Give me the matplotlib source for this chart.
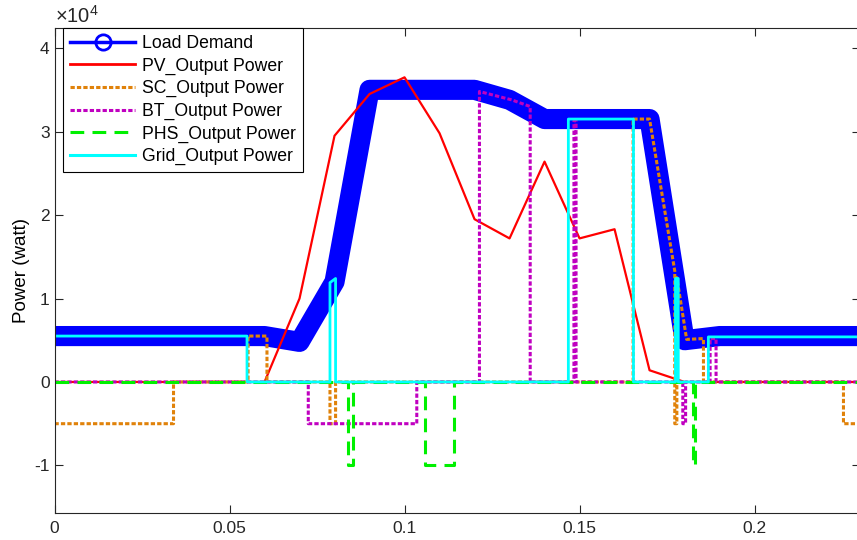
import matplotlib
matplotlib.use("Agg")
import matplotlib.pyplot as plt
from matplotlib.lines import Line2D

plt.rcParams['font.family'] = ['Liberation Sans', 'DejaVu Sans']
plt.rcParams['mathtext.fontset'] = 'custom'
plt.rcParams['mathtext.rm'] = 'Liberation Sans'

# --- data ---
t_load = [0, 0.01, 0.02, 0.03, 0.04, 0.05, 0.06, 0.07, 0.08, 0.09, 0.10, 0.11,
          0.12, 0.13, 0.14, 0.15, 0.16, 0.17, 0.18, 0.19, 0.20, 0.21, 0.22, 0.23]
load = [5500, 5500, 5500, 5500, 5500, 5500, 5500, 4800, 12000, 35000, 35000, 35000,
        35000, 33800, 31500, 31500, 31500, 31500, 5000, 5500, 5500, 5500, 5500, 5500]

t_pv = t_load
pv = [0, 0, 0, 0, 0, 0, 0, 10000, 29500, 34500, 36500, 29800,
      19500, 17200, 26400, 17200, 18300, 1400, 0, 0, 0, 0, 0, 0]

t_sc = [0, 0.034, 0.034, 0.0553, 0.0553, 0.0607, 0.0607, 0.0787, 0.0787, 0.0803,
        0.0803, 0.1653, 0.1653, 0.1700, 0.1772, 0.1772, 0.1778, 0.1778, 0.1806,
        0.1854, 0.1854, 0.2254, 0.2254, 0.23]
sc = [-5000, -5000, 0, 0, 5500, 5500, 0, 0, -5000, -5000,
      0, 0, 31500, 31500, 13300, -5000, -5000, 12500, 5100,
      5200, 0, 0, -5000, -5000]

t_bt = [0, 0.0725, 0.0725, 0.1035, 0.1035, 0.1214, 0.1214, 0.1306, 0.1359, 0.1359,
        0.1484, 0.1484, 0.1490, 0.1490, 0.1795, 0.1795, 0.1803, 0.1803, 0.1873,
        0.1873, 0.1890, 0.1890, 0.23]
bt = [0, 0, -5000, -5000, 0, 0, 34800, 33800, 33000, 0,
      0, 31300, 31300, 0, 0, -5000, -5000, 0, 0,
      5200, 5200, 0, 0]

t_phs = [0, 0.0839, 0.0839, 0.0853, 0.0853, 0.1059, 0.1059, 0.1141, 0.1141,
         0.1825, 0.1825, 0.1829, 0.1829, 0.23]
phs = [0, 0, -10000, -10000, 0, 0, -10000, -10000, 0,
       0, -10000, -10000, 0, 0]

t_grid = [0, 0.055, 0.055, 0.0787, 0.0787, 0.0803, 0.0803, 0.1468, 0.1468, 0.1654,
          0.1654, 0.1774, 0.1774, 0.1782, 0.1782, 0.1868, 0.1868, 0.23]
grid = [5500, 5500, 0, 0, 11900, 12400, 0, 0, 31500, 31500,
        0, 0, 12400, 12400, 0, 0, 5400, 5400]

labels = ['Load Demand', 'PV_Output Power', 'SC_Output Power', 'BT_Output Power',
          'PHS_Output Power', 'Grid_Output Power']

c_orange = '#E0820A'
c_mag = '#C000C0'
c_green = '#00F000'

fig = plt.figure(figsize=(8.57, 5.40), dpi=100)
ax = fig.add_axes([0.0636, 0.05, 0.9394, 0.898])

ax.plot(t_load, load, color='blue', lw=14.5, solid_joinstyle='round', solid_capstyle='butt')
ax.plot(t_pv, pv, color='red', lw=1.6)
l_sc, = ax.plot(t_sc, sc, color=c_orange, lw=2.2)
l_sc.set_dashes([1.4, 0.7])
l_bt, = ax.plot(t_bt, bt, color=c_mag, lw=2.2)
l_bt.set_dashes([1.4, 0.7])
l_phs, = ax.plot(t_phs, phs, color=c_green, lw=2.2)
l_phs.set_dashes([4.5, 2.7])
ax.plot(t_grid, grid, color='cyan', lw=2.0)

# legend handles (thin versions like the original)
h_load = Line2D([], [], color='blue', lw=2.5, marker='o', ms=11, mfc='none', mew=2)
h_pv = Line2D([], [], color='red', lw=2)
h_sc = Line2D([], [], color=c_orange, lw=2.2, dashes=[1.4, 0.7])
h_bt = Line2D([], [], color=c_mag, lw=2.2, dashes=[1.4, 0.7])
h_phs = Line2D([], [], color=c_green, lw=2.2, dashes=[4.5, 2.7])
h_grid = Line2D([], [], color='cyan', lw=2.2)
leg = ax.legend([h_load, h_pv, h_sc, h_bt, h_phs, h_grid], labels,
                loc='upper left', bbox_to_anchor=(0.0106, 1.0), borderaxespad=0,
                fontsize=12.7, handlelength=3.7, labelspacing=0.31, handletextpad=0.4,
                borderpad=0.4, fancybox=False, framealpha=1, edgecolor='black')
leg.get_frame().set_linewidth(0.8)

ax.set_xlim(0, 0.23)
ax.set_ylim(-15700, 42400)
ax.set_xticks([0, 0.05, 0.1, 0.15, 0.2])
ax.set_xticklabels(['0', '0.05', '0.1', '0.15', '0.2'])
ax.set_yticks([-10000, 0, 10000, 20000, 30000, 40000])
ax.set_yticklabels(['-1', '0', '1', '2', '3', '4'])
ax.tick_params(direction='in', top=True, right=True, length=6, width=0.8,
               labelsize=12.5, colors='#262626')
ax.tick_params(axis='x', pad=6)
for s in ax.spines.values():
    s.set_color('#262626')
    s.set_linewidth(0.8)
ax.set_ylabel('Power (watt)', fontsize=13.5, labelpad=3)
ax.text(0.0, 1.003, r'$\times10^{4}$', transform=ax.transAxes, fontsize=14.5,
        color='#262626', ha='left', va='bottom')

fig.savefig('out.png', dpi=100)
